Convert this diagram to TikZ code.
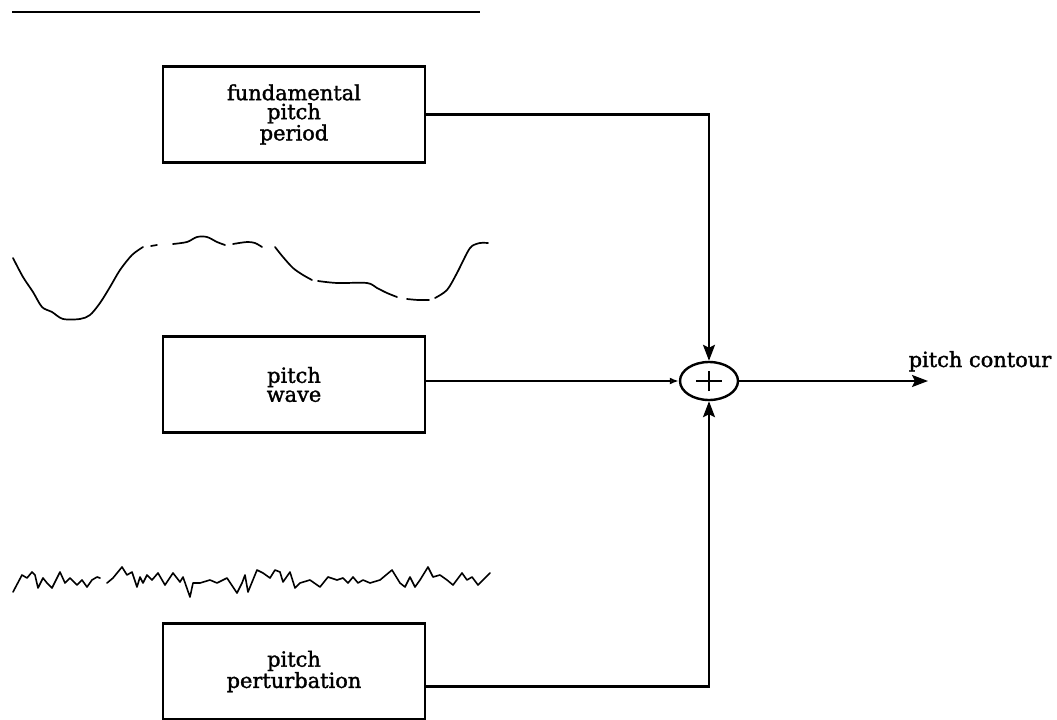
\documentclass[tikz,border=0pt]{standalone}
\usepackage{fontspec}
\setmainfont{DejaVu Serif}[BoldFont={DejaVu Serif},BoldFeatures={FakeBold=1.5}]
\usetikzlibrary{shapes.geometric,arrows.meta}
\begin{document}
\begin{tikzpicture}[x=1bp,y=-1bp,
  txt/.style={font=\fontsize{21}{19}\selectfont\bfseries},
  blockbox/.style={txt,draw,line width=2.6bp,minimum width=262bp,minimum height=96bp,inner sep=0pt,align=center},
  conn/.style={line width=2.2bp},
  wave/.style={line width=1.7bp,line join=round,line cap=round},
  tip/.style={-{Stealth[length=16bp,width=12bp,inset=3bp]}},
  opentip/.style={-{Latex[open,length=9bp,width=7bp,line width=1.8bp]}}]
\useasboundingbox (0,0) rectangle (1057,720);
% top rule
\coordinate (r1) at (12,12);
\coordinate (r2) at (480,12);
\draw[line width=2bp] (r1) -- (r2);
% blocks
\node[blockbox] (b1) at (294,114.5) {fundamental\\pitch\\period};
\node[blockbox] (b2) at (294,384.5) {pitch\\wave};
\node[blockbox] (b3) at (294,671.5) {pitch\\perturbation};
% summing junction
\node[ellipse,draw,line width=2.4bp,minimum width=58bp,minimum height=38bp,inner sep=0pt] (s) at (709,381) {};
\draw[line width=2.4bp] ([xshift=-13bp]s.center) -- ([xshift=13bp]s.center);
\draw[line width=2.4bp] ([yshift=-10bp]s.center) -- ([yshift=10bp]s.center);
% connectors
\draw[conn,tip] (b1.east) -| (s.north);
\draw[conn,opentip] (b2.east |- s.west) -- (s.west);
\draw[conn,tip] ([yshift=-15bp]b3.east) -| (s.south);
\coordinate (out) at (928,381);
\draw[conn,tip] (s.east) -- (out);
\node[txt,anchor=base] (lbl) at (980,367) {pitch contour};
% smooth pitch wave
\draw[wave] plot[smooth] coordinates {(13,258) (23,277) (33,292) (42,307) (52,312) (63,319) (80,319) (90,315) (100,303) (110,287) (120,270) (132,255) (143,247)};
\draw[wave] (151,246) -- (157,245);
\draw[wave] plot[smooth] coordinates {(173,244) (187,242) (197,237) (207,237) (217,242) (225,245)};
\draw[wave] plot[smooth] coordinates {(233,244) (247,242) (255,243) (262,247)};
\draw[wave] plot[smooth] coordinates {(275,247) (283,257) (293,268) (303,275) (312,280)};
\draw[wave] plot[smooth] coordinates {(318,281) (337,283) (367,283) (377,288) (387,293) (397,297)};
\draw[wave] plot[smooth] coordinates {(407,299) (418,300) (429,300)};
\draw[wave] plot[smooth] coordinates {(435,298) (447,290) (457,273) (467,253) (472,246) (480,243) (488,243)};
% noise
\draw[wave,line width=1.6bp] plot coordinates {(13,592) (22,575) (27,578) (32,572) (35,575) (38,588) (43,578) (47,583) (52,588) (60,572) (65,583) (70,578) (77,585) (82,580) (87,587) (92,580) (97,577) (100,578)};
\draw[wave,line width=1.6bp] plot coordinates {(107,583) (113,578) (122,567) (127,575) (132,572) (137,587) (140,577) (143,583) (147,575) (152,580) (158,573) (165,585) (173,573) (180,582) (183,577) (190,597) (193,583) (200,583) (210,580) (217,583) (227,578) (237,593) (242,583) (245,575) (248,592) (257,570) (263,573) (270,578) (275,570) (280,572) (283,582) (290,572) (295,588) (300,583) (310,580) (320,587) (328,577) (337,580) (343,578) (348,583) (353,577) (358,583) (363,580) (370,583) (380,580) (392,570) (400,583) (405,587) (410,577) (415,587) (420,580) (428,567) (433,577) (440,575) (447,580) (453,585) (462,573) (467,580) (472,577) (478,585) (490,573)};
\end{tikzpicture}
\end{document}
